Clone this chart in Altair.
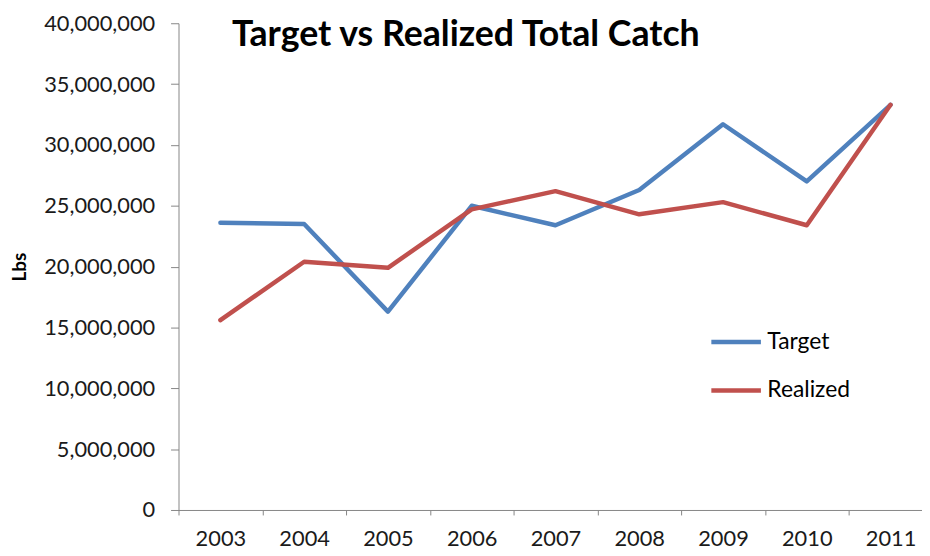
import altair as alt
import pandas as pd

years = ["2003", "2004", "2005", "2006", "2007", "2008", "2009", "2010", "2011"]
target = [23600000, 23500000, 16300000, 25000000, 23400000, 26300000, 31700000, 27000000, 33300000]
realized = [15600000, 20400000, 19900000, 24700000, 26200000, 24300000, 25300000, 23400000, 33300000]
series = ["Target", "Realized"]
colors = ["#4F81BD", "#C0504D"]

rows = []
for y, t, r in zip(years, target, realized):
    rows.append({"Year": y, "Series": "Target", "Lbs": t})
    rows.append({"Year": y, "Series": "Realized", "Lbs": r})
df = pd.DataFrame(rows)

font = "Lato"

chart = alt.Chart(df).mark_line(strokeWidth=4.5, strokeJoin="round", strokeCap="round").encode(
    x=alt.X("Year:O", bandPosition=0.5,
            scale=alt.Scale(type="band", paddingInner=0, paddingOuter=0, range=[0, 760.5]),
            axis=alt.Axis(title=None, labelAngle=0, tickBand="extent", tickSize=5,
                          labelPadding=14, labelFontSize=22, labelColor="#1a1a1a",
                          labelFont=font, domainColor="#868686", tickColor="#868686",
                          grid=False)),
    y=alt.Y("Lbs:Q", scale=alt.Scale(domain=[0, 40000000], nice=False),
            axis=alt.Axis(title="Lbs", values=list(range(0, 40000001, 5000000)),
                          format=",d", tickSize=8, labelPadding=16, labelFontSize=22,
                          labelColor="#1a1a1a", labelFont=font, domainColor="#868686",
                          tickColor="#868686", grid=False, titleFont=font,
                          titleFontSize=19, titleFontWeight="bold", titleColor="#000",
                          titlePadding=14)),
    color=alt.Color("Series:N", scale=alt.Scale(domain=series, range=colors),
                    legend=alt.Legend(title=None, orient="none", legendX=535, legendY=294,
                                      symbolType="stroke", symbolSize=2500,
                                      symbolStrokeWidth=4.5, labelFontSize=23,
                                      labelFont=font, labelColor="#000", labelOffset=4,
                                      rowPadding=9)),
).properties(
    width=750, height=491,
    title=alt.TitleParams("Target vs Realized Total Catch", font=font, fontSize=36,
                          fontWeight="bold", color="#000", anchor="start", frame="group",
                          dx=54, dy=2, offset=-40),
    autosize=alt.AutoSizeParams(type="none"),
    padding={"left": 172, "top": 13, "right": 0, "bottom": 40},
).configure_view(stroke=None)

chart.save("out.html", embed_options={"renderer": "svg", "actions": False})
